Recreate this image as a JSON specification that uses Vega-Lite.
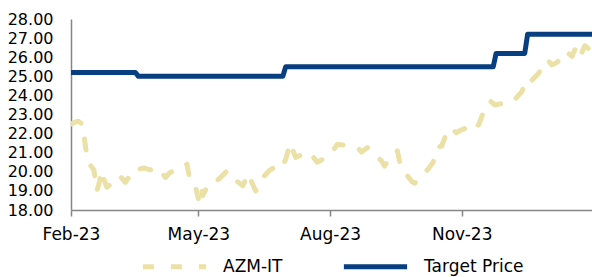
{
  "$schema": "https://vega.github.io/schema/vega-lite/v6.json",
  "width": 521,
  "height": 191,
  "autosize": "none",
  "padding": {"left": 71, "top": 19, "right": 0, "bottom": 67},
  "background": "white",
  "config": {
    "view": {"stroke": null},
    "font": "DejaVu Sans",
    "axis": {"labelFont": "DejaVu Sans", "labelFontSize": 16, "labelColor": "#000000", "domainColor": "#868686", "domainWidth": 1.5, "grid": false, "title": null}
  },
  "data": {
    "values": [
      {"date": "2023-02-01", "series": "AZM-IT", "value": 22.5},
      {"date": "2023-02-04", "series": "AZM-IT", "value": 22.6},
      {"date": "2023-02-06", "series": "AZM-IT", "value": 22.65},
      {"date": "2023-02-09", "series": "AZM-IT", "value": 22.5},
      {"date": "2023-02-10", "series": "AZM-IT", "value": 22.0},
      {"date": "2023-02-11", "series": "AZM-IT", "value": 21.35},
      {"date": "2023-02-13", "series": "AZM-IT", "value": 20.5},
      {"date": "2023-02-17", "series": "AZM-IT", "value": 20.1},
      {"date": "2023-02-19", "series": "AZM-IT", "value": 19.0},
      {"date": "2023-02-21", "series": "AZM-IT", "value": 19.5},
      {"date": "2023-02-22", "series": "AZM-IT", "value": 20.05},
      {"date": "2023-02-26", "series": "AZM-IT", "value": 19.2},
      {"date": "2023-02-28", "series": "AZM-IT", "value": 19.3},
      {"date": "2023-03-04", "series": "AZM-IT", "value": 19.6},
      {"date": "2023-03-07", "series": "AZM-IT", "value": 19.8},
      {"date": "2023-03-11", "series": "AZM-IT", "value": 19.45},
      {"date": "2023-03-15", "series": "AZM-IT", "value": 19.9},
      {"date": "2023-03-19", "series": "AZM-IT", "value": 20.2},
      {"date": "2023-03-21", "series": "AZM-IT", "value": 20.15},
      {"date": "2023-03-24", "series": "AZM-IT", "value": 20.2},
      {"date": "2023-03-28", "series": "AZM-IT", "value": 20.1},
      {"date": "2023-04-03", "series": "AZM-IT", "value": 20.2},
      {"date": "2023-04-08", "series": "AZM-IT", "value": 19.7},
      {"date": "2023-04-11", "series": "AZM-IT", "value": 19.95},
      {"date": "2023-04-15", "series": "AZM-IT", "value": 20.1},
      {"date": "2023-04-18", "series": "AZM-IT", "value": 20.2},
      {"date": "2023-04-23", "series": "AZM-IT", "value": 20.4},
      {"date": "2023-04-25", "series": "AZM-IT", "value": 19.6},
      {"date": "2023-04-29", "series": "AZM-IT", "value": 19.2},
      {"date": "2023-05-01", "series": "AZM-IT", "value": 18.6},
      {"date": "2023-05-03", "series": "AZM-IT", "value": 19.27},
      {"date": "2023-05-04", "series": "AZM-IT", "value": 18.75},
      {"date": "2023-05-08", "series": "AZM-IT", "value": 19.35},
      {"date": "2023-05-11", "series": "AZM-IT", "value": 19.5},
      {"date": "2023-05-15", "series": "AZM-IT", "value": 19.6},
      {"date": "2023-05-21", "series": "AZM-IT", "value": 20.05},
      {"date": "2023-05-24", "series": "AZM-IT", "value": 19.8},
      {"date": "2023-05-28", "series": "AZM-IT", "value": 19.5},
      {"date": "2023-06-01", "series": "AZM-IT", "value": 19.27},
      {"date": "2023-06-05", "series": "AZM-IT", "value": 19.9},
      {"date": "2023-06-07", "series": "AZM-IT", "value": 19.5},
      {"date": "2023-06-10", "series": "AZM-IT", "value": 19.0},
      {"date": "2023-06-15", "series": "AZM-IT", "value": 19.7},
      {"date": "2023-06-20", "series": "AZM-IT", "value": 20.1},
      {"date": "2023-06-25", "series": "AZM-IT", "value": 20.3},
      {"date": "2023-06-28", "series": "AZM-IT", "value": 20.2},
      {"date": "2023-07-01", "series": "AZM-IT", "value": 20.65},
      {"date": "2023-07-03", "series": "AZM-IT", "value": 21.2},
      {"date": "2023-07-04", "series": "AZM-IT", "value": 21.5},
      {"date": "2023-07-08", "series": "AZM-IT", "value": 20.75},
      {"date": "2023-07-12", "series": "AZM-IT", "value": 20.9},
      {"date": "2023-07-18", "series": "AZM-IT", "value": 21.0},
      {"date": "2023-07-23", "series": "AZM-IT", "value": 20.5},
      {"date": "2023-07-28", "series": "AZM-IT", "value": 20.7},
      {"date": "2023-08-02", "series": "AZM-IT", "value": 21.0},
      {"date": "2023-08-06", "series": "AZM-IT", "value": 21.44},
      {"date": "2023-08-10", "series": "AZM-IT", "value": 21.4},
      {"date": "2023-08-16", "series": "AZM-IT", "value": 21.3},
      {"date": "2023-08-21", "series": "AZM-IT", "value": 21.2},
      {"date": "2023-08-23", "series": "AZM-IT", "value": 21.04},
      {"date": "2023-08-27", "series": "AZM-IT", "value": 21.27},
      {"date": "2023-09-01", "series": "AZM-IT", "value": 20.9},
      {"date": "2023-09-06", "series": "AZM-IT", "value": 20.57},
      {"date": "2023-09-08", "series": "AZM-IT", "value": 20.3},
      {"date": "2023-09-11", "series": "AZM-IT", "value": 20.65},
      {"date": "2023-09-17", "series": "AZM-IT", "value": 21.1},
      {"date": "2023-09-19", "series": "AZM-IT", "value": 20.4},
      {"date": "2023-09-23", "series": "AZM-IT", "value": 19.9},
      {"date": "2023-09-27", "series": "AZM-IT", "value": 19.5},
      {"date": "2023-09-29", "series": "AZM-IT", "value": 19.4},
      {"date": "2023-10-05", "series": "AZM-IT", "value": 19.8},
      {"date": "2023-10-08", "series": "AZM-IT", "value": 20.1},
      {"date": "2023-10-12", "series": "AZM-IT", "value": 20.5},
      {"date": "2023-10-15", "series": "AZM-IT", "value": 21.27},
      {"date": "2023-10-18", "series": "AZM-IT", "value": 21.35},
      {"date": "2023-10-21", "series": "AZM-IT", "value": 21.96},
      {"date": "2023-10-25", "series": "AZM-IT", "value": 22.3},
      {"date": "2023-10-28", "series": "AZM-IT", "value": 22.05},
      {"date": "2023-11-01", "series": "AZM-IT", "value": 22.2},
      {"date": "2023-11-04", "series": "AZM-IT", "value": 22.3},
      {"date": "2023-11-08", "series": "AZM-IT", "value": 22.13},
      {"date": "2023-11-13", "series": "AZM-IT", "value": 22.48},
      {"date": "2023-11-15", "series": "AZM-IT", "value": 22.9},
      {"date": "2023-11-17", "series": "AZM-IT", "value": 23.26},
      {"date": "2023-11-21", "series": "AZM-IT", "value": 23.7},
      {"date": "2023-11-24", "series": "AZM-IT", "value": 23.5},
      {"date": "2023-12-01", "series": "AZM-IT", "value": 23.6},
      {"date": "2023-12-07", "series": "AZM-IT", "value": 23.7},
      {"date": "2023-12-13", "series": "AZM-IT", "value": 24.2},
      {"date": "2023-12-15", "series": "AZM-IT", "value": 24.56},
      {"date": "2023-12-18", "series": "AZM-IT", "value": 24.47},
      {"date": "2023-12-20", "series": "AZM-IT", "value": 24.8},
      {"date": "2023-12-24", "series": "AZM-IT", "value": 25.1},
      {"date": "2023-12-28", "series": "AZM-IT", "value": 25.5},
      {"date": "2023-12-31", "series": "AZM-IT", "value": 25.86},
      {"date": "2024-01-03", "series": "AZM-IT", "value": 25.6},
      {"date": "2024-01-06", "series": "AZM-IT", "value": 25.7},
      {"date": "2024-01-10", "series": "AZM-IT", "value": 25.95},
      {"date": "2024-01-13", "series": "AZM-IT", "value": 26.3},
      {"date": "2024-01-17", "series": "AZM-IT", "value": 26.04},
      {"date": "2024-01-20", "series": "AZM-IT", "value": 26.56},
      {"date": "2024-01-23", "series": "AZM-IT", "value": 26.1},
      {"date": "2024-01-26", "series": "AZM-IT", "value": 26.6},
      {"date": "2024-01-31", "series": "AZM-IT", "value": 26.3},
      {"date": "2023-02-01", "series": "Target Price", "value": 25.2},
      {"date": "2023-03-18", "series": "Target Price", "value": 25.2},
      {"date": "2023-03-20", "series": "Target Price", "value": 25.0},
      {"date": "2023-06-29", "series": "Target Price", "value": 25.0},
      {"date": "2023-07-01", "series": "Target Price", "value": 25.5},
      {"date": "2023-11-23", "series": "Target Price", "value": 25.5},
      {"date": "2023-11-25", "series": "Target Price", "value": 26.2},
      {"date": "2023-12-15", "series": "Target Price", "value": 26.2},
      {"date": "2023-12-17", "series": "Target Price", "value": 27.2},
      {"date": "2024-01-31", "series": "Target Price", "value": 27.2}
    ]
  },
  "mark": {"type": "line", "strokeWidth": 5, "strokeCap": "round", "strokeJoin": "round", "clip": true},
  "encoding": {
    "x": {
      "field": "date", "type": "temporal",
      "scale": {"type": "utc", "domain": [{"year": 2023, "month": 2, "date": 1, "utc": true}, {"year": 2024, "month": 1, "date": 31, "utc": true}]},
      "axis": {
        "values": [{"year": 2023, "month": 2, "date": 1, "utc": true}, {"year": 2023, "month": 5, "date": 1, "utc": true}, {"year": 2023, "month": 8, "date": 1, "utc": true}, {"year": 2023, "month": 11, "date": 1, "utc": true}],
        "labelExpr": "utcFormat(datum.value, '%b-%y')",
        "labelFontSize": 17,
        "ticks": true, "tickSize": 6, "tickColor": "#868686", "tickWidth": 1.5,
        "labelPadding": 10, "labelAlign": "center", "labelFlush": false, "labelOverlap": false
      }
    },
    "y": {
      "field": "value", "type": "quantitative",
      "scale": {"domain": [18, 28], "nice": false, "zero": false},
      "axis": {"values": [18, 19, 20, 21, 22, 23, 24, 25, 26, 27, 28], "format": ".2f", "ticks": false, "labelPadding": 18}
    },
    "color": {
      "field": "series", "type": "nominal",
      "scale": {"domain": ["AZM-IT", "Target Price"], "range": ["#EBE1A6", "#073F80"]},
      "legend": {"title": null, "orient": "none", "legendX": 69, "legendY": 213, "direction": "horizontal", "symbolType": "stroke", "symbolSize": 4000, "symbolStrokeWidth": 5, "labelFont": "DejaVu Sans", "labelFontSize": 17, "labelColor": "#000000", "labelOffset": 14, "columnPadding": 50, "padding": 0}
    },
    "strokeDash": {
      "field": "series", "type": "nominal",
      "scale": {"domain": ["AZM-IT", "Target Price"], "range": [[11, 17], [1, 0]]},
      "legend": {"title": null, "orient": "none", "legendX": 69, "legendY": 213, "direction": "horizontal", "symbolType": "stroke", "symbolSize": 4000, "symbolStrokeWidth": 5, "labelFont": "DejaVu Sans", "labelFontSize": 17, "labelColor": "#000000", "labelOffset": 14, "columnPadding": 50, "padding": 0}
    }
  }
}
